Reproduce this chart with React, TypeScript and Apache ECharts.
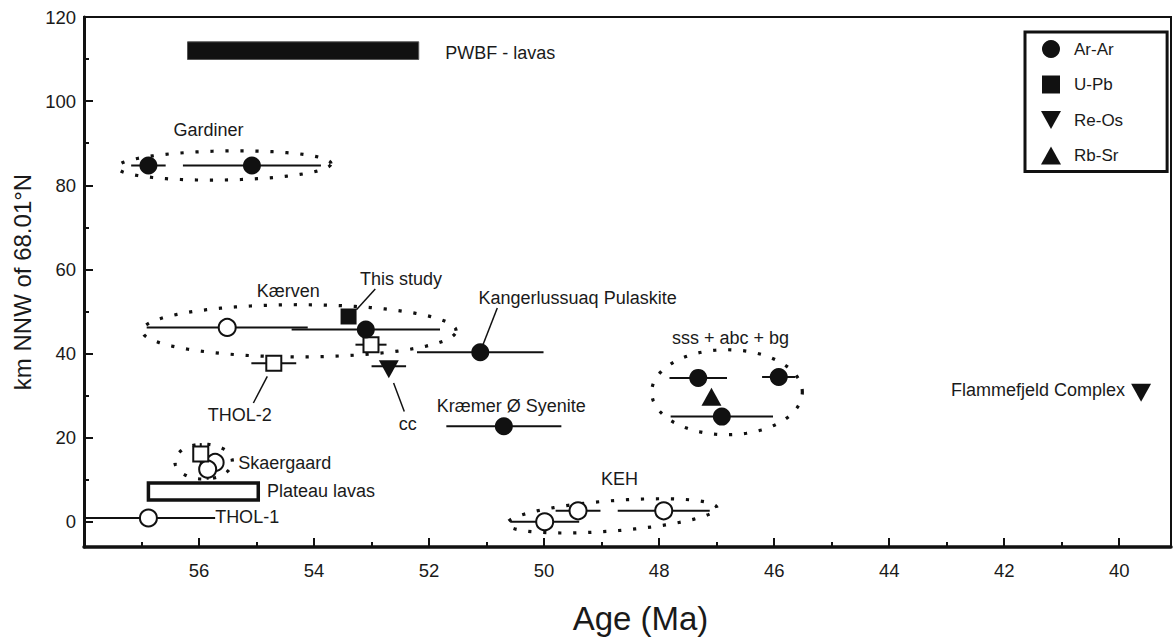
import React, { useEffect, useRef } from "react";
import * as echarts from "echarts";

const FONT = "'Liberation Sans', Arial, Helvetica, sans-serif";
const INK = "#111111";

const X_MIN = 39.1;
const X_MAX = 58;
const Y_MIN = -6;
const Y_MAX = 120;
const xMajorTicks = [40, 42, 44, 46, 48, 50, 52, 54, 56];
const xMinorTicks = [41, 43, 45, 47, 49, 51, 53, 55, 57];
const yMajorTicks = [0, 20, 40, 60, 80, 100, 120];
const yMinorTicks = [10, 30, 50, 70, 90, 110];

// [age (Ma), km NNW, ± age]
const arAr = [
  [56.88, 84.7, 0.3],
  [55.08, 84.7, 1.2],
  [53.1, 45.7, 1.29],
  [51.11, 40.3, 1.1],
  [50.7, 22.7, 1.0],
  [47.32, 34.2, 0.5],
  [45.92, 34.4, 0.29],
  [46.91, 25.0, 0.89],
];
const uPb = [[53.4, 48.8, 0]];
const reOs = [
  [52.7, 37.0, 0.3],
  [39.62, 31.4, 0],
];
const rbSr = [[47.09, 29.7, 0]];
const openCircles = [
  [55.51, 46.2, 1.4],
  [56.88, 0.9, 1.16],
  [55.72, 14.1, 0],
  [55.85, 12.5, 0],
  [49.99, 0.0, 0.6],
  [49.41, 2.6, 0.39],
  [47.92, 2.6, 0.8],
];
const openSquares = [
  [53.01, 42.1, 0.27],
  [54.7, 37.7, 0.39],
  [55.97, 16.1, 0],
];
// [age, km, ± km]
const yErrBars = [
  [55.85, 12.5, 2.5],
  [55.97, 16.1, 2.6],
];
// [age from, age to, km from, km to]
const bands = [
  [56.2, 52.18, 109.9, 114.1],
  [56.88, 54.97, 5.2, 9.2],
];
const bandFilled = [true, false];
// dotted groupings: [centre age, centre km, half-width Ma, half-height km, tilt deg]
const groups = [
  [55.565, 84.7, 1.86, 3.45, 1],
  [54.26, 45.4, 2.73, 6.2, 0],
  [55.92, 14.3, 0.5, 4.16, 0],
  [46.82, 30.8, 1.31, 10.1, 0],
  [48.82, 1.4, 1.83, 3.6, 4.4],
];
// leader lines [age1, km1, age2, km2]
const leaders = [
  [53.263, 50.42, 52.936, 55.34],
  [54.813, 34.55, 55.055, 28.23],
  [52.617, 32.98, 52.431, 26.23],
  [51.063, 42.09, 50.814, 50.82],
];
const labelTexts = [
  "PWBF - lavas",
  "Gardiner",
  "Kærven",
  "This study",
  "Kangerlussuaq Pulaskite",
  "THOL-2",
  "cc",
  "Kræmer Ø Syenite",
  "sss + abc + bg",
  "Flammefjeld Complex",
  "Skaergaard",
  "Plateau lavas",
  "THOL-1",
  "KEH",
];
const labelAnchors = [
  [51.72, 111.46],
  [55.835, 93.22],
  [54.45, 54.77],
  [52.49, 57.79],
  [51.14, 53.2],
  [55.29, 25.45],
  [52.37, 23.3],
  [50.57, 27.42],
  [46.76, 43.76],
  [39.9, 31.39],
  [55.32, 13.96],
  [54.82, 7.2],
  [55.72, 1.12],
  [48.69, 10.23],
];
const labelAligns = [
  "left", "center", "center", "center", "left", "center", "center",
  "center", "center", "right", "left", "left", "left", "center",
];

const xErrBars = [...arAr, ...uPb, ...reOs, ...rbSr, ...openCircles, ...openSquares].filter(
  (p) => p[2] > 0
);

function buildOption(): any {
  const axisText = { fontSize: 18.5, color: "#1a1a1a", fontFamily: FONT };
  return {
    animation: false,
    backgroundColor: "#ffffff",
    textStyle: { fontFamily: FONT },
    grid: {
      left: 84,
      right: 5,
      top: 17,
      bottom: 96,
      show: true,
      borderColor: INK,
      borderWidth: 2,
      backgroundColor: "transparent",
    },
    legend: {
      orient: "vertical",
      left: 1025,
      top: 32,
      padding: [8, 44, 7, 16],
      itemGap: 17.5,
      itemWidth: 20,
      itemHeight: 18,
      borderColor: INK,
      borderWidth: 3,
      borderRadius: 0,
      selectedMode: false,
      textStyle: { fontSize: 17, color: "#1a1a1a", fontFamily: FONT, padding: [0, 0, 0, 8] },
      data: [
        { name: "Ar-Ar", icon: "circle" },
        { name: "U-Pb", icon: "path://M0,0L16,0L16,16L0,16Z" },
        { name: "Re-Os", icon: "path://M0,0L20,0L10,18Z" },
        { name: "Rb-Sr", icon: "path://M10,0L20,18L0,18Z" },
      ],
    },
    xAxis: [
      {
        type: "value",
        min: X_MIN,
        max: X_MAX,
        inverse: true,
        position: "bottom",
        name: "Age (Ma)",
        nameLocation: "middle",
        nameGap: 55,
        nameTextStyle: { fontSize: 33, color: "#1a1a1a", fontFamily: FONT, padding: [0, 0, 0, 26] },
        axisLine: { onZero: false, lineStyle: { color: INK, width: 3.5 } },
        axisTick: { inside: true, length: 9, customValues: xMajorTicks, lineStyle: { color: INK, width: 2 } },
        axisLabel: { ...axisText, margin: 14, customValues: xMajorTicks },
        splitLine: { show: false },
      },
      {
        type: "value",
        min: X_MIN,
        max: X_MAX,
        inverse: true,
        position: "bottom",
        axisLine: { show: false, onZero: false },
        axisTick: { inside: true, length: 5, customValues: xMinorTicks, lineStyle: { color: INK, width: 2 } },
        axisLabel: { show: false },
        splitLine: { show: false },
      },
    ],
    yAxis: [
      {
        type: "value",
        min: Y_MIN,
        max: Y_MAX,
        position: "left",
        name: "km NNW of 68.01°N",
        nameLocation: "middle",
        nameGap: 50,
        nameTextStyle: { fontSize: 24, color: "#1a1a1a", fontFamily: FONT },
        axisLine: { onZero: false, lineStyle: { color: INK, width: 3 } },
        axisTick: { inside: true, length: 9, customValues: yMajorTicks, lineStyle: { color: INK, width: 2 } },
        axisLabel: { ...axisText, margin: 8, customValues: yMajorTicks },
        splitLine: { show: false },
      },
      {
        type: "value",
        min: Y_MIN,
        max: Y_MAX,
        position: "left",
        axisLine: { show: false, onZero: false },
        axisTick: { inside: true, length: 5, customValues: yMinorTicks, lineStyle: { color: INK, width: 2 } },
        axisLabel: { show: false },
        splitLine: { show: false },
      },
    ],
    series: [
      {
        type: "custom",
        name: "groups",
        z: 1,
        silent: true,
        data: groups,
        renderItem: (params: any, api: any) => {
          const c = api.coord([api.value(0), api.value(1)]);
          const sx = Math.abs(api.size([api.value(2), 0])[0]);
          const sy = Math.abs(api.size([0, api.value(3)])[1]);
          const phi = (api.value(4) * Math.PI) / 180;
          const pts: number[][] = [];
          const n = 120;
          for (let i = 0; i < n; i++) {
            const t = (i / n) * Math.PI * 2;
            const ex = sx * Math.cos(t);
            const ey = sy * Math.sin(t);
            pts.push([
              c[0] + ex * Math.cos(phi) - ey * Math.sin(phi),
              c[1] - (ex * Math.sin(phi) + ey * Math.cos(phi)),
            ]);
          }
          return {
            type: "polygon",
            shape: { points: pts },
            style: { fill: "none", stroke: INK, lineWidth: 3.2, lineDash: [3.2, 11.8] },
          };
        },
      },
      {
        type: "custom",
        name: "bands",
        z: 2,
        silent: true,
        data: bands,
        renderItem: (params: any, api: any) => {
          const a = api.coord([api.value(0), api.value(3)]);
          const b = api.coord([api.value(1), api.value(2)]);
          const filled = bandFilled[params.dataIndex];
          return {
            type: "rect",
            shape: {
              x: Math.min(a[0], b[0]),
              y: Math.min(a[1], b[1]),
              width: Math.abs(b[0] - a[0]),
              height: Math.abs(b[1] - a[1]),
            },
            style: filled
              ? { fill: INK, stroke: "#555", lineWidth: 1 }
              : { fill: "#ffffff", stroke: INK, lineWidth: 3.5 },
          };
        },
      },
      {
        type: "custom",
        name: "xErr",
        z: 3,
        silent: true,
        data: xErrBars,
        renderItem: (params: any, api: any) => {
          const x = api.value(0);
          const y = api.value(1);
          const e = api.value(2);
          const a = api.coord([Math.min(x + e, X_MAX), y]);
          const b = api.coord([Math.max(x - e, X_MIN), y]);
          return {
            type: "line",
            shape: { x1: a[0], y1: a[1], x2: b[0], y2: b[1] },
            style: { stroke: INK, lineWidth: 2 },
          };
        },
      },
      {
        type: "custom",
        name: "yErr",
        z: 3,
        silent: true,
        data: yErrBars,
        renderItem: (params: any, api: any) => {
          const x = api.value(0);
          const y = api.value(1);
          const e = api.value(2);
          const a = api.coord([x, y + e]);
          const b = api.coord([x, y - e]);
          return {
            type: "line",
            shape: { x1: a[0], y1: a[1], x2: b[0], y2: b[1] },
            style: { stroke: INK, lineWidth: 2 },
          };
        },
      },
      {
        type: "custom",
        name: "leaders",
        z: 3,
        silent: true,
        data: leaders,
        renderItem: (params: any, api: any) => {
          const a = api.coord([api.value(0), api.value(1)]);
          const b = api.coord([api.value(2), api.value(3)]);
          return {
            type: "line",
            shape: { x1: a[0], y1: a[1], x2: b[0], y2: b[1] },
            style: { stroke: INK, lineWidth: 1.5 },
          };
        },
      },
      {
        type: "scatter",
        name: "open circles",
        z: 5,
        silent: true,
        symbol: "circle",
        symbolSize: 17,
        itemStyle: { color: "#ffffff", borderColor: INK, borderWidth: 2, opacity: 1 },
        data: openCircles.map((p) => [p[0], p[1]]),
      },
      {
        type: "scatter",
        name: "open squares",
        z: 5,
        silent: true,
        symbol: "rect",
        symbolSize: 15,
        itemStyle: { color: "#ffffff", borderColor: INK, borderWidth: 2, opacity: 1 },
        data: openSquares.map((p) => [p[0], p[1]]),
      },
      {
        type: "scatter",
        name: "Ar-Ar",
        z: 6,
        silent: true,
        symbol: "circle",
        symbolSize: 18,
        itemStyle: { color: INK, opacity: 1 },
        data: arAr.map((p) => [p[0], p[1]]),
      },
      {
        type: "scatter",
        name: "U-Pb",
        z: 6,
        silent: true,
        symbol: "rect",
        symbolSize: 16,
        itemStyle: { color: INK, opacity: 1 },
        data: uPb.map((p) => [p[0], p[1]]),
      },
      {
        type: "scatter",
        name: "Re-Os",
        z: 6,
        silent: true,
        symbol: "triangle",
        symbolRotate: 180,
        symbolSize: [20, 18],
        symbolOffset: [0, 3],
        itemStyle: { color: INK, opacity: 1 },
        data: reOs.map((p) => [p[0], p[1]]),
      },
      {
        type: "scatter",
        name: "Rb-Sr",
        z: 6,
        silent: true,
        symbol: "triangle",
        symbolSize: [20, 18],
        itemStyle: { color: INK, opacity: 1 },
        data: rbSr.map((p) => [p[0], p[1]]),
      },
      {
        type: "custom",
        name: "labels",
        z: 7,
        silent: true,
        data: labelAnchors,
        renderItem: (params: any, api: any) => {
          const p = api.coord([api.value(0), api.value(1)]);
          const align = labelAligns[params.dataIndex];
          return {
            type: "text",
            x: p[0],
            y: p[1],
            style: {
              text: labelTexts[params.dataIndex],
              fill: "#1a1a1a",
              fontSize: 18,
              fontFamily: FONT,
              align,
              textAlign: align,
              verticalAlign: "middle",
              textVerticalAlign: "middle",
            },
          };
        },
      },
    ],
  };
}

export default function App() {
  const ref = useRef<HTMLDivElement>(null);
  useEffect(() => {
    if (!ref.current) return;
    const chart = echarts.init(ref.current, null, { renderer: "svg" });
    chart.setOption(buildOption());
    return () => chart.dispose();
  }, []);
  return (
    <div
      ref={ref}
      style={{ position: "absolute", left: 0, top: 0, width: 1176, height: 643, background: "#fff" }}
    />
  );
}
